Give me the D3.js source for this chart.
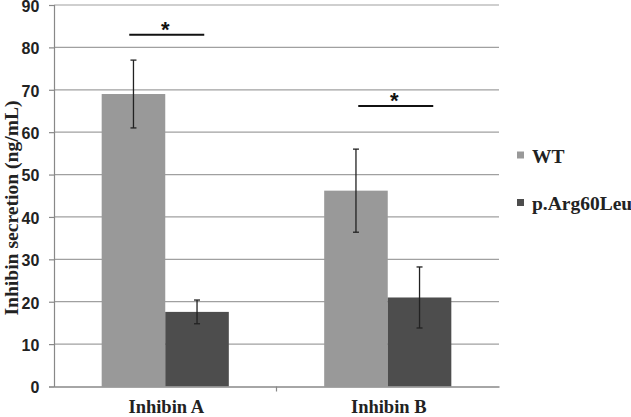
<!DOCTYPE html>
<html><head><meta charset="utf-8">
<script src="https://cdn.jsdelivr.net/npm/d3@7"></script>
<style>body{margin:0;background:#fff}svg{display:block}</style>
</head><body>
<script>
const categories = ["Inhibin A", "Inhibin B"];
const seriesNames = ["WT", "p.Arg60Leu"];
const wtValues = [69, 46.2];
const wtErrors = [8, 9.8];
const mutValues = [17.6, 21];
const mutErrors = [2.8, 7.2];
const yTicks = [0,10,20,30,40,50,60,70,80,90];
const sigLevels = [83, 66.2];
const sigOffsets = [1.5, 8];

const W = 631, H = 417;
const margin = {left: 54, right: 132, top: 5, bottom: 30.5};
const svg = d3.select("body").append("svg").attr("width", W).attr("height", H);
const x0 = d3.scaleBand().domain(categories).range([margin.left, W - margin.right]).paddingInner(0).paddingOuter(0);
const groupW = x0.step() / 1.75;
const x1 = d3.scaleBand().domain(seriesNames).range([0, groupW]);
const y = d3.scaleLinear().domain([0, 90]).range([H - margin.bottom, margin.top]);
const colors = {"WT": "#999999", "p.Arg60Leu": "#4d4d4d"};
const serif = "Liberation Serif, Times New Roman, serif";
const sans = "Liberation Sans, Arial, sans-serif";

// gridlines
svg.append("g").selectAll("line").data(yTicks.filter(d => d > 0)).join("line")
  .attr("x1", margin.left).attr("x2", W - margin.right)
  .attr("y1", d => y(d)).attr("y2", d => y(d))
  .attr("stroke", "#a0a0a0").attr("stroke-width", 1.2);

// y axis
const yAxis = svg.append("g").attr("transform", `translate(${margin.left},0)`)
  .call(d3.axisLeft(y).tickValues(yTicks).tickSize(5).tickPadding(9.7));
yAxis.select(".domain").attr("stroke", "#888").attr("stroke-width", 1.2);
yAxis.selectAll(".tick line").attr("stroke", "#888").attr("stroke-width", 1.2);
yAxis.selectAll("text").attr("font-family", sans).attr("dy", "0.4em")
  .attr("font-weight", "bold").attr("font-size", 16).attr("fill", "#222");

const data = categories.map((c, i) => [
  {cat: c, s: "WT", v: wtValues[i], e: wtErrors[i]},
  {cat: c, s: "p.Arg60Leu", v: mutValues[i], e: mutErrors[i]}
]).flat();
const gx = d => x0(d.cat) + (x0.step() - groupW) / 2 + x1(d.s);

svg.append("g").selectAll("rect").data(data).join("rect")
  .attr("x", gx).attr("width", x1.bandwidth())
  .attr("y", d => y(d.v)).attr("height", d => y(0) - y(d.v))
  .attr("fill", d => colors[d.s]);

// x axis
const xAxis = svg.append("g").attr("transform", `translate(0,${y(0)})`)
  .call(d3.axisBottom(x0).tickSize(0).tickFormat(""));
xAxis.select(".domain").attr("stroke", "#888").attr("stroke-width", 1.5);
svg.append("line").attr("x1", x0.range()[0] + x0.step()).attr("x2", x0.range()[0] + x0.step())
  .attr("y1", y(0)).attr("y2", y(0) + 5).attr("stroke", "#888").attr("stroke-width", 1.2);
svg.append("g").selectAll("text").data(categories).join("text")
  .attr("x", d => x0(d) + x0.step() / 2 + 1).attr("y", 413)
  .attr("text-anchor", "middle").attr("font-family", serif)
  .attr("font-weight", "bold").attr("font-size", 18.5).attr("fill", "#222").text(d => d);

// error bars
const eb = svg.append("g").attr("stroke", "#222").attr("stroke-width", 1.3);
data.forEach(d => {
  const cx = gx(d) + x1.bandwidth() / 2;
  eb.append("line").attr("x1", cx).attr("x2", cx).attr("y1", y(d.v + d.e)).attr("y2", y(d.v - d.e));
  eb.append("line").attr("x1", cx - 3).attr("x2", cx + 3).attr("y1", y(d.v + d.e)).attr("y2", y(d.v + d.e));
  eb.append("line").attr("x1", cx - 3).attr("x2", cx + 3).attr("y1", y(d.v - d.e)).attr("y2", y(d.v - d.e));
});

// significance
categories.forEach((c, i) => {
  const cx = x0(c) + x0.step() / 2 + sigOffsets[i];
  svg.append("line").attr("x1", cx - 37.5).attr("x2", cx + 37.5)
    .attr("y1", y(sigLevels[i])).attr("y2", y(sigLevels[i]))
    .attr("stroke", "#111").attr("stroke-width", 2);
  svg.append("text").attr("x", cx - 1.5).attr("y", y(sigLevels[i]) + 2.5)
    .attr("text-anchor", "middle").attr("font-family", sans)
    .attr("font-weight", "bold").attr("font-size", 22).attr("fill", "#111").text("*");
});

// y title
svg.append("text").attr("transform", `translate(17.5,208) rotate(-90)`)
  .attr("text-anchor", "middle").attr("font-family", serif)
  .attr("font-weight", "bold").attr("font-size", 19.6).attr("fill", "#222")
  .text("Inhibin secretion (ng/mL)");

// legend
const lg = svg.append("g").selectAll("g").data(seriesNames).join("g")
  .attr("transform", (d, i) => `translate(517,${162.5 + i * 47.5})`);
lg.append("rect").attr("x", 0).attr("y", -11).attr("width", 7).attr("height", 7).attr("fill", d => colors[d]);
lg.append("text").attr("x", 15).attr("y", 0).attr("font-family", serif)
  .attr("font-weight", "bold").attr("font-size", 19.5).attr("fill", "#222").text(d => d);
</script>
</body></html>
